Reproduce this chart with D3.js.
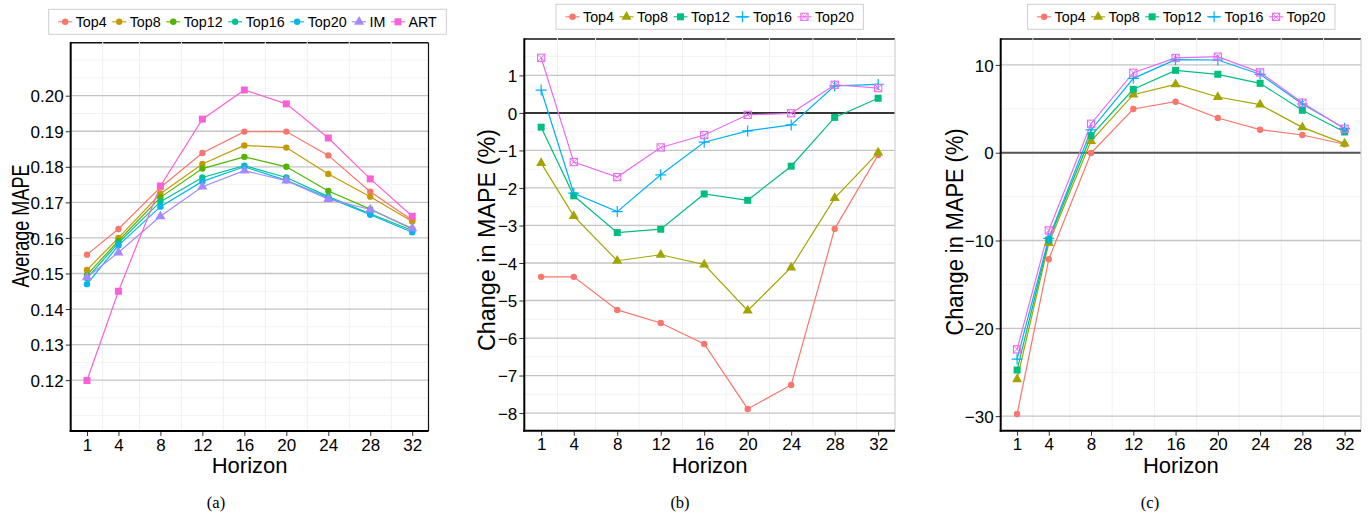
<!DOCTYPE html>
<html>
<head>
<meta charset="utf-8">
<script src="https://cdn.jsdelivr.net/npm/d3@7"></script>
<style>
  html, body { margin: 0; padding: 0; background: #fff; }
  svg { display: block; }
  text { font-family: "Liberation Sans", Arial, Helvetica, sans-serif; fill: #000; }
  text.caption { font-family: "Liberation Serif", "Times New Roman", serif; }
</style>
</head>
<body>
<svg id="fig" width="1371" height="517"></svg>
<script>
// Forecast horizons shared by all three panels
const horizons = [1, 4, 8, 12, 16, 20, 24, 28, 32];
const minorX = [2.5, 6, 10, 14, 18, 22, 26, 30];

// (a) Average MAPE per horizon
const aTop4  = [0.1553, 0.1625, 0.1742, 0.1839, 0.1899, 0.1899, 0.1832, 0.1730, 0.1650];
const aTop8  = [0.1510, 0.1600, 0.1724, 0.1808, 0.1860, 0.1854, 0.1780, 0.1716, 0.1646];
const aTop12 = [0.1496, 0.1592, 0.1714, 0.1795, 0.1828, 0.1800, 0.1732, 0.1681, 0.1625];
const aTop16 = [0.1487, 0.1586, 0.1702, 0.1770, 0.1803, 0.1770, 0.1716, 0.1668, 0.1621];
const aTop20 = [0.1470, 0.1579, 0.1688, 0.1759, 0.1800, 0.1762, 0.1713, 0.1665, 0.1616];
const aIM    = [0.1489, 0.1559, 0.1661, 0.1744, 0.1789, 0.1761, 0.1709, 0.1680, 0.1627];
const aART   = [0.1199, 0.1450, 0.1746, 0.1934, 0.2016, 0.1977, 0.1881, 0.1766, 0.1661];
const aYTicks = [0.12, 0.13, 0.14, 0.15, 0.16, 0.17, 0.18, 0.19, 0.20];

// (b) Change in MAPE (%)
const bTop4  = [-4.37, -4.37, -5.25, -5.60, -6.16, -7.89, -7.25, -3.09, -1.12];
const bTop8  = [-1.34, -2.75, -3.94, -3.78, -4.04, -5.27, -4.12, -2.27, -1.06];
const bTop12 = [-0.38, -2.21, -3.19, -3.10, -2.16, -2.33, -1.42, -0.12, 0.39];
const bTop16 = [0.61, -2.14, -2.63, -1.65, -0.78, -0.48, -0.32, 0.72, 0.76];
const bTop20 = [1.47, -1.31, -1.71, -0.92, -0.59, -0.05, -0.01, 0.75, 0.66];
const bYTicks = [-8, -7, -6, -5, -4, -3, -2, -1, 0, 1];

// (c) Change in MAPE (%)
const cTop4  = [-29.76, -12.14, -0.03, 4.98, 5.81, 3.95, 2.62, 2.02, 0.96];
const cTop8  = [-25.81, -10.30, 1.33, 6.61, 7.79, 6.34, 5.47, 2.89, 1.03];
const cTop12 = [-24.75, -9.94, 1.94, 7.22, 9.38, 8.93, 7.90, 4.83, 2.36];
const cTop16 = [-23.50, -9.75, 2.59, 8.47, 10.60, 10.56, 8.93, 5.55, 2.78];
const cTop20 = [-22.39, -8.85, 3.30, 9.11, 10.79, 10.94, 9.15, 5.70, 2.73];
const cYTicks = [-30, -20, -10, 0, 10];

const svg = d3.select("#fig");
svg.append("rect").attr("width", 1371).attr("height", 517).attr("fill", "#fff");

// draw one marker glyph
function marker(g, shape, color) {
  if (shape === "circle") {
    g.append("circle").attr("r", 3.2).attr("fill", color);
  } else if (shape === "triangle") {
    g.append("path").attr("d", d3.symbol(d3.symbolTriangle, 44)()).attr("fill", color);
  } else if (shape === "square") {
    g.append("rect").attr("x", -3.5).attr("y", -3.5).attr("width", 7).attr("height", 7).attr("fill", color);
  } else if (shape === "plus") {
    g.append("path").attr("d", "M-5.5,0H5.5M0,-5.5V5.5").attr("stroke", color).attr("stroke-width", 1.2).attr("fill", "none");
  } else if (shape === "boxx") {
    g.append("rect").attr("x", -3.6).attr("y", -3.6).attr("width", 7.2).attr("height", 7.2)
      .attr("fill", "none").attr("stroke", color).attr("stroke-width", 1.1);
    g.append("path").attr("d", "M-3.6,-3.6L3.6,3.6M-3.6,3.6L3.6,-3.6")
      .attr("stroke", color).attr("stroke-width", 0.9).attr("fill", "none");
  }
}

function drawPanel(p) {
  const g = svg.append("g");
  const x = d3.scaleLinear().domain([-0.55, 33.55]).range([p.left, p.right]);
  const y = d3.scaleLinear().domain(p.yDomain).range([p.bottom, p.top]);

  // minor grid
  const grid = g.append("g");
  grid.selectAll(".mx").data(minorX).join("line")
    .attr("x1", d => x(d)).attr("x2", d => x(d))
    .attr("y1", p.top - 1).attr("y2", p.bottom)
    .attr("stroke", "#f0f0f0").attr("stroke-width", 1);
  grid.selectAll(".my").data(p.yMinor).join("line")
    .attr("x1", p.left).attr("x2", p.right)
    .attr("y1", d => y(d)).attr("y2", d => y(d))
    .attr("stroke", "#f2f2f2").attr("stroke-width", 1);
  // major horizontal grid
  grid.selectAll(".my2").data(p.yTicks).join("line")
    .attr("x1", p.left).attr("x2", p.right)
    .attr("y1", d => y(d)).attr("y2", d => y(d))
    .attr("stroke", "#c4c4c4").attr("stroke-width", 1.3);
  if (p.zeroLine) {
    g.append("line").attr("x1", p.left).attr("x2", p.right)
      .attr("y1", y(0)).attr("y2", y(0))
      .attr("stroke", p.zeroLine.color).attr("stroke-width", p.zeroLine.width);
  }

  // frame
  g.append("line").attr("x1", p.left).attr("x2", p.right).attr("y1", p.top).attr("y2", p.top)
    .attr("stroke", "#111").attr("stroke-width", 1.4);
  g.append("line").attr("x1", p.right).attr("x2", p.right).attr("y1", p.top).attr("y2", p.bottom)
    .attr("stroke", p.rightColor).attr("stroke-width", 1.2);
  // minor ticks crossing the top edge
  g.selectAll(".tt").data(minorX).join("line")
    .attr("x1", d => x(d)).attr("x2", d => x(d))
    .attr("y1", p.top - 1.5).attr("y2", p.top + 1.5)
    .attr("stroke", "#e8e8e8").attr("stroke-width", 1);

  // axes
  const xAxis = d3.axisBottom(x).tickValues(horizons).tickSize(5).tickPadding(3).tickSizeOuter(0);
  const gx = g.append("g").attr("transform", `translate(0,${p.bottom})`).call(xAxis);
  gx.select(".domain").remove();
  gx.selectAll(".tick line").attr("stroke", "#333").attr("stroke-width", 1);
  gx.selectAll(".tick text").attr("font-size", 17).attr("fill", "#111").attr("dy", "0.69em");

  const yAxis = d3.axisLeft(y).tickValues(p.yTicks).tickFormat(p.yFormat).tickSize(5).tickPadding(2).tickSizeOuter(0);
  const gy = g.append("g").attr("transform", `translate(${p.left},0)`).call(yAxis);
  gy.select(".domain").remove();
  gy.selectAll(".tick line").attr("stroke", "#333").attr("stroke-width", 1);
  gy.selectAll(".tick text").attr("font-size", 17).attr("fill", "#111").attr("dy", "0.36em");

  g.append("line").attr("x1", p.left).attr("x2", p.left).attr("y1", p.top - 0.7).attr("y2", p.bottom + 1)
    .attr("stroke", "#000").attr("stroke-width", 2);
  g.append("line").attr("x1", p.left - 1).attr("x2", p.right).attr("y1", p.bottom).attr("y2", p.bottom)
    .attr("stroke", "#000").attr("stroke-width", 2);

  // series
  const line = d3.line().x((d, i) => x(horizons[i])).y(d => y(d));
  p.series.forEach(s => {
    g.append("path").datum(s.values).attr("d", line)
      .attr("fill", "none").attr("stroke", s.color).attr("stroke-width", 1.2);
  });
  p.series.forEach(s => {
    s.values.forEach((v, i) => {
      const m = g.append("g").attr("transform", `translate(${x(horizons[i])},${y(v)})`);
      marker(m, s.shape, s.color);
    });
  });

  // titles
  g.append("text").attr("x", (p.left + p.right) / 2).attr("y", 472.5)
    .attr("text-anchor", "middle").attr("font-size", 22).text("Horizon");
  g.append("text").attr("transform", `translate(${p.yTitleX},${p.yTitleY}) rotate(-90)`)
    .attr("text-anchor", "middle").attr("font-size", 23)
    .attr("textLength", p.yTitleLen).attr("lengthAdjust", "spacingAndGlyphs")
    .text(p.yTitle);

  // legend
  const lg = svg.append("g");
  const items = [];
  let cx = 0;
  p.series.forEach(s => {
    const it = lg.append("g");
    it.append("line").attr("x1", -7).attr("x2", 7).attr("stroke", s.color).attr("stroke-width", 1.1);
    const mk = it.append("g");
    marker(mk, s.shape, s.color);
    const t = it.append("text").attr("x", 10.5).attr("dy", "0.36em").attr("font-size", 14.3).text(s.name);
    const w = t.node().getComputedTextLength();
    items.push({ node: it, cx: cx });
    cx += 10.5 + w + 12.5;
  });
  const innerW = cx - 12.5 + 7;
  const boxW = innerW + 16 + 3;
  const boxLeft = p.legendCenter - boxW / 2;
  lg.insert("rect", ":first-child")
    .attr("x", boxLeft).attr("y", p.legendTop).attr("width", boxW).attr("height", 25)
    .attr("fill", "#fff").attr("stroke", "#cfcfcf").attr("stroke-width", 1);
  items.forEach(it => it.node.attr("transform", `translate(${boxLeft + 16 + it.cx + 0.5},${p.legendTop + 12.5})`));

  // caption
  svg.append("text").attr("class", "caption").attr("x", p.captionX).attr("y", 508)
    .attr("text-anchor", "middle").attr("font-size", 16.5).text(p.caption);
}

const hue7 = ["#F8766D", "#C49A00", "#53B400", "#00C094", "#00B6EB", "#A58AFF", "#FB61D7"];
const hue5 = ["#F8766D", "#A3A500", "#00BF7D", "#00B0F6", "#E76BF3"];

drawPanel({
  left: 70.7, right: 428.5, top: 42.7, bottom: 431,
  yDomain: [0.1057, 0.2149],
  yTicks: aYTicks,
  yMinor: d3.range(0, 21).map(i => 0.11 + i * 0.005).filter(v => !aYTicks.some(t => Math.abs(t - v) < 1e-6)),
  yFormat: d3.format(".2f"),
  rightColor: "#111",
  yTitle: "Average MAPE", yTitleX: 29, yTitleY: 226, yTitleLen: 123,
  legendCenter: 247.5, legendTop: 9.3,
  caption: "(a)", captionX: 216,
  series: [
    { name: "Top4", values: aTop4, color: hue7[0], shape: "circle" },
    { name: "Top8", values: aTop8, color: hue7[1], shape: "circle" },
    { name: "Top12", values: aTop12, color: hue7[2], shape: "circle" },
    { name: "Top16", values: aTop16, color: hue7[3], shape: "circle" },
    { name: "Top20", values: aTop20, color: hue7[4], shape: "circle" },
    { name: "IM", values: aIM, color: hue7[5], shape: "triangle" },
    { name: "ART", values: aART, color: hue7[6], shape: "square" }
  ]
});

const minusFmt = d => (d < 0 ? "\u2212" + Math.abs(d) : String(d));

drawPanel({
  left: 524.3, right: 895, top: 39, bottom: 430.7,
  yDomain: [-8.47, 1.97],
  yTicks: bYTicks,
  yMinor: d3.range(-8.5, 2, 1),
  yFormat: minusFmt,
  rightColor: "#d0d0d0",
  zeroLine: { color: "#000", width: 1.5 },
  yTitle: "Change in MAPE (%)", yTitleX: 495, yTitleY: 240, yTitleLen: 222,
  legendCenter: 709.7, legendTop: 4.3,
  caption: "(b)", captionX: 680,
  series: [
    { name: "Top4", values: bTop4, color: hue5[0], shape: "circle" },
    { name: "Top8", values: bTop8, color: hue5[1], shape: "triangle" },
    { name: "Top12", values: bTop12, color: hue5[2], shape: "square" },
    { name: "Top16", values: bTop16, color: hue5[3], shape: "plus" },
    { name: "Top20", values: bTop20, color: hue5[4], shape: "boxx" }
  ]
});

drawPanel({
  left: 1000.7, right: 1361, top: 39, bottom: 430.7,
  yDomain: [-31.66, 12.95],
  yTicks: cYTicks,
  yMinor: [-25, -15, -5, 5],
  yFormat: minusFmt,
  rightColor: "#d0d0d0",
  zeroLine: { color: "#555", width: 2 },
  yTitle: "Change in MAPE (%)", yTitleX: 963, yTitleY: 232, yTitleLen: 207,
  legendCenter: 1181.3, legendTop: 4.3,
  caption: "(c)", captionX: 1150,
  series: [
    { name: "Top4", values: cTop4, color: hue5[0], shape: "circle" },
    { name: "Top8", values: cTop8, color: hue5[1], shape: "triangle" },
    { name: "Top12", values: cTop12, color: hue5[2], shape: "square" },
    { name: "Top16", values: cTop16, color: hue5[3], shape: "plus" },
    { name: "Top20", values: cTop20, color: hue5[4], shape: "boxx" }
  ]
});
</script>
</body>
</html>
